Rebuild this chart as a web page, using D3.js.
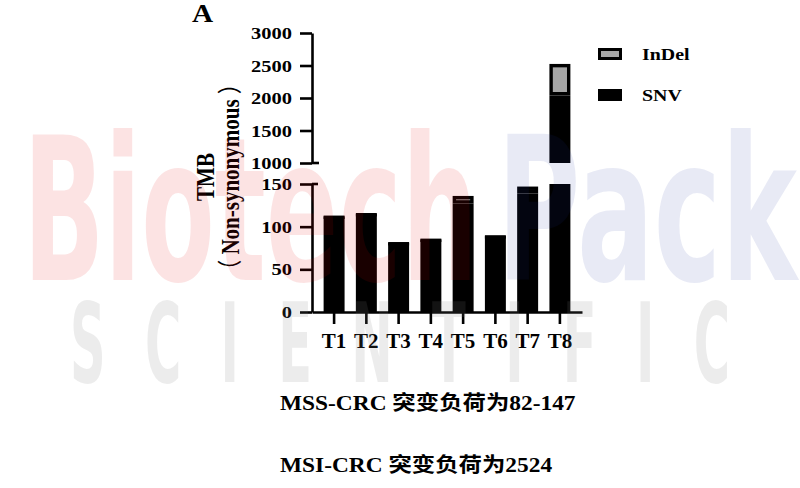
<!DOCTYPE html>
<html>
<head>
<meta charset="utf-8">
<script src="https://cdn.jsdelivr.net/npm/d3@7"></script>
<style>
  html, body { margin: 0; padding: 0; background: #ffffff; }
  svg { display: block; }
  text { font-family: "Liberation Serif", "Noto Sans CJK SC", serif; font-weight: bold; fill: #000; }
</style>
</head>
<body>
<svg id="chart" width="800" height="488"></svg>
<script>
// ---------------- data ----------------
const samples = ["T1", "T2", "T3", "T4", "T5", "T6", "T7", "T8"];
const snvValues = [112, 115, 81, 85, 127, 89, 139, 2040];
const indelValues = [1, 1, 1, 1, 9, 1, 8, 484];
const seriesNames = ["InDel", "SNV"];
const upperTicks = [1000, 1500, 2000, 2500, 3000];
const lowerTicks = [0, 50, 100, 150];
const panelLabel = "A";
const yTitle1 = "TMB";
const yTitle2 = "Non-synonymous";
const note1 = "MSS-CRC 突变负荷为82-147";
const note2 = "MSI-CRC 突变负荷为2524";

// ---------------- layout ----------------
const SX = 1.17;          // horizontal stretch of the original picture's text
const AX = 312;           // y-axis x position
const SW = 3.4;           // bar border width
const colors = { SNV: "#000000", InDel: "#a6a6a6" };

const svg = d3.select("#chart");

const x = d3.scaleBand().domain(samples).range([AX, 582]).paddingInner(0.35).paddingOuter(0.36);
const yTop = d3.scaleLinear().domain([1000, 3000]).range([163, 33]);
const yBot = d3.scaleLinear().domain([0, 150]).range([312, 184]);

const data = samples.map((s, i) => ({
  name: s,
  segs: [
    { key: "SNV", lo: 0, hi: snvValues[i] },
    { key: "InDel", lo: snvValues[i], hi: snvValues[i] + indelValues[i] }
  ]
}));

const bars = svg.append("g");
function drawSeg(g, sample, key, y, lo, hi) {
  const d0 = y.domain();
  const a = Math.max(lo, d0[0]), b = Math.min(hi, d0[1]);
  if (b <= a) return;
  const x0 = x(sample), w = x.bandwidth();
  const top = y(b), bottom = y(a);
  g.append("rect")
    .attr("x", x0 + SW / 2)
    .attr("y", top + SW / 2)
    .attr("width", w - SW)
    .attr("height", Math.max(0.01, bottom - top - SW))
    .attr("fill", colors[key])
    .attr("stroke", "#000")
    .attr("stroke-width", SW);
}
data.forEach(d => {
  d.segs.forEach(s => {
    drawSeg(bars, d.name, s.key, yBot, s.lo, s.hi);
    drawSeg(bars, d.name, s.key, yTop, s.lo, s.hi);
  });
});

// ---------------- axes ----------------
function styleAxis(g) {
  g.selectAll("path.domain").attr("stroke", "#000").attr("stroke-width", 2.6);
  g.selectAll(".tick line").attr("stroke", "#000").attr("stroke-width", 2.6);
}
const gTop = svg.append("g").attr("transform", `translate(${AX},0)`)
  .call(d3.axisLeft(yTop).tickValues(upperTicks).tickSize(12).tickSizeOuter(0).tickPadding(8).tickFormat(d3.format("d")));
const gBot = svg.append("g").attr("transform", `translate(${AX},0)`)
  .call(d3.axisLeft(yBot).tickValues(lowerTicks).tickSize(12).tickSizeOuter(0).tickPadding(8).tickFormat(d3.format("d")));
[gTop, gBot].forEach(g => {
  styleAxis(g);
  g.selectAll(".tick text")
    .attr("font-family", null).attr("font-size", null)
    .style("font-size", "17.5px")
    .attr("x", -20 / SX)
    .attr("transform", `scale(${SX},1)`);
});
// break marks extending to the right of the axis
svg.append("line").attr("x1", AX).attr("x2", AX + 7).attr("y1", yTop(1000)).attr("y2", yTop(1000))
  .attr("stroke", "#000").attr("stroke-width", 2.6);
svg.append("line").attr("x1", AX).attr("x2", AX + 6).attr("y1", yBot(150)).attr("y2", yBot(150))
  .attr("stroke", "#000").attr("stroke-width", 2.6);

const gX = svg.append("g").attr("transform", `translate(0,${yBot(0)})`)
  .call(d3.axisBottom(x).tickSize(12).tickSizeOuter(0).tickPadding(9));
styleAxis(gX);
gX.selectAll(".tick text").attr("font-family", null).attr("font-size", null)
  .style("font-size", "20px").attr("dy", "0.75em")
  .attr("transform", "scale(1.05,1)");

// ---------------- legend ----------------
const leg = svg.append("g");
const legY = { InDel: 54, SNV: 95 };
seriesNames.forEach(k => {
  leg.append("rect")
    .attr("x", 598 + 1.5).attr("y", legY[k] - 6 + 1.5)
    .attr("width", 24 - 3).attr("height", 12 - 3)
    .attr("fill", colors[k]).attr("stroke", "#000").attr("stroke-width", 3);
  leg.append("text")
    .attr("transform", `translate(642,${legY[k] + 6}) scale(${SX},1)`)
    .style("font-size", "17px")
    .text(k);
});

// ---------------- titles ----------------
svg.append("text")
  .attr("transform", `translate(192,22) scale(${SX},1)`)
  .style("font-size", "25px").text(panelLabel);

svg.append("text")
  .attr("transform", `translate(214,177) rotate(-90) scale(1,${SX})`)
  .attr("text-anchor", "middle").style("font-size", "21px").text(yTitle1);
const t2 = svg.append("text")
  .attr("transform", `translate(239,177) rotate(-90) scale(1,${SX})`)
  .attr("text-anchor", "middle").style("font-size", "21px");
t2.append("tspan").style("font-family", "'Noto Sans CJK SC'").style("font-weight", "normal").text("（");
t2.append("tspan").text(" " + yTitle2 + " ");
t2.append("tspan").style("font-family", "'Noto Sans CJK SC'").style("font-weight", "normal").text("）");

svg.append("text")
  .attr("transform", `translate(280,410) scale(${SX},1)`)
  .style("font-size", "20px").text(note1);
svg.append("text")
  .attr("transform", `translate(280,472) scale(${SX},1)`)
  .style("font-size", "20px").text(note2);

// ---------------- watermark ----------------
const wm = svg.append("g").attr("pointer-events", "none");
wm.append("text")
  .attr("x", 23).attr("y", 280)
  .attr("textLength", 455).attr("lengthAdjust", "spacingAndGlyphs")
  .style("font-family", "'DejaVu Sans Condensed', 'DejaVu Sans', sans-serif").style("font-size", "200px")
  .style("font-weight", "bold")
  .style("fill", "#e00000").style("fill-opacity", 0.11)
  .text("Biotech");
wm.append("text")
  .attr("x", 497).attr("y", 280)
  .attr("textLength", 300).attr("lengthAdjust", "spacingAndGlyphs")
  .style("font-family", "'DejaVu Sans Condensed', 'DejaVu Sans', sans-serif").style("font-size", "200px")
  .style("font-weight", "bold")
  .style("fill", "#1a3399").style("fill-opacity", 0.1)
  .text("Pack");
wm.append("text")
  .attr("transform", "translate(70,382) scale(0.5,1)")
  .attr("textLength", 1320).attr("lengthAdjust", "spacing")
  .style("font-family", "'DejaVu Sans Condensed', 'DejaVu Sans', sans-serif")
  .style("font-weight", "bold").style("font-size", "110px")
  .style("fill", "#808080").style("fill-opacity", 0.15)
  .text("SCIENTIFIC");
</script>
</body>
</html>
